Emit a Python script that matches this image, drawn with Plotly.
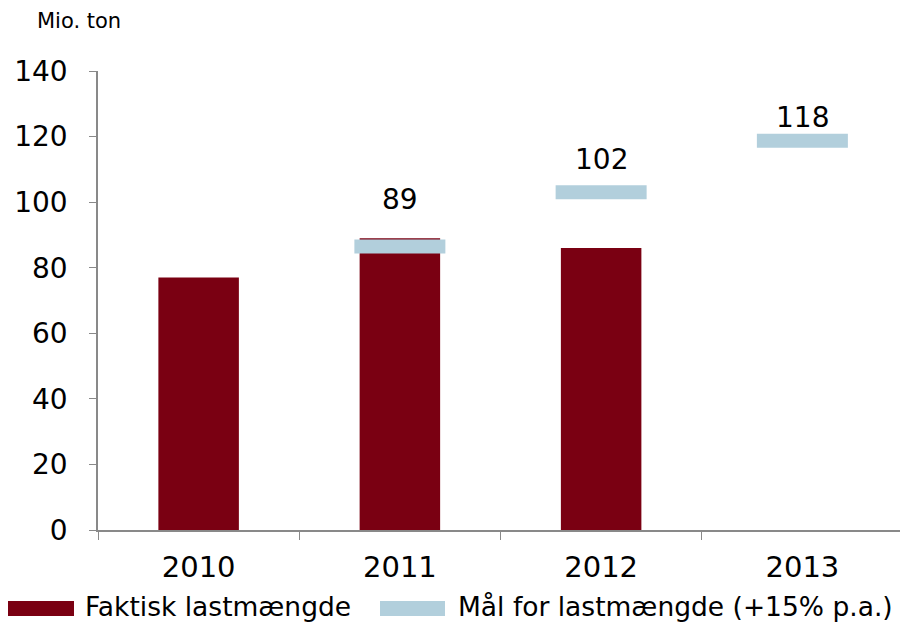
import plotly.graph_objects as go

years = ["2010", "2011", "2012", "2013"]
actual = [77, 89, 86, None]
target = [None, 86.5, 103, 118.7]
target_labels = ["", "89", "102", "118"]
label_shift = [0, 47, 33, 23]

BAR = "#7A0012"
TGT = "#B2CFDC"
FONT = "Verdana, DejaVu Sans, sans-serif"

# screen px -> paper coordinates (plot area: x 98..903, y 530..71)
def px(sx):
    return (sx - 98) / 805

def py(sy):
    return (530 - sy) / 459

fig = go.Figure()
fig.add_trace(go.Bar(x=years, y=actual, width=0.4, marker=dict(color=BAR, line=dict(width=0)),
                     name="Faktisk lastmængde", showlegend=False))
fig.add_trace(go.Scatter(x=years, y=target, mode="markers",
                         marker=dict(symbol="line-ew", size=65,
                                     line=dict(width=14, color=TGT)),
                         name="Mål for lastmængde (+15% p.a.)", showlegend=False))

for i, (y, t, s) in enumerate(zip(target, target_labels, label_shift)):
    if y is None or not t:
        continue
    fig.add_annotation(x=i, y=y, xref="x", yref="y", text=t, showarrow=False, yshift=s,
                       yanchor="middle", font=dict(size=28, color="black", family=FONT))

# manual legend
fig.add_shape(type="rect", xref="paper", yref="paper",
              x0=px(8), x1=px(74), y0=py(616), y1=py(601),
              fillcolor=BAR, line=dict(width=0))
fig.add_annotation(xref="paper", yref="paper", x=px(83), y=py(606),
                   xanchor="left", yanchor="middle", showarrow=False,
                   text="Faktisk lastmængde", font=dict(size=26.5, color="black", family=FONT))
fig.add_shape(type="rect", xref="paper", yref="paper",
              x0=px(380), x1=px(445), y0=py(616), y1=py(601),
              fillcolor=TGT, line=dict(width=0))
fig.add_annotation(xref="paper", yref="paper", x=px(456), y=py(606),
                   xanchor="left", yanchor="middle", showarrow=False,
                   text="Mål for lastmængde (+15% p.a.)", font=dict(size=26.5, color="black", family=FONT))

fig.add_annotation(xref="paper", yref="paper", x=px(35), y=py(21),
                   xanchor="left", yanchor="middle", showarrow=False,
                   text="Mio. ton", font=dict(size=21, color="black", family=FONT))

fig.update_layout(
    width=900, height=615,
    margin=dict(l=90, r=5, t=63, b=93),
    paper_bgcolor="white", plot_bgcolor="white",
    font=dict(family=FONT, color="black"),
    showlegend=False,
)
fig.update_xaxes(type="category", range=[-0.5, 3.5], showline=True, linecolor="#898989",
                 linewidth=1.5, ticks="outside", tickson="boundaries", ticklen=8,
                 tickcolor="#898989", tickfont=dict(size=29), showgrid=False,
                 ticklabelstandoff=10)
fig.update_yaxes(range=[0, 140], dtick=20, showline=True, linecolor="#898989",
                 linewidth=1.5, ticks="outside", ticklen=7, tickcolor="#898989",
                 tickfont=dict(size=28), showgrid=False, zeroline=False,
                 ticklabelstandoff=16)

fig.write_html("out.html")
